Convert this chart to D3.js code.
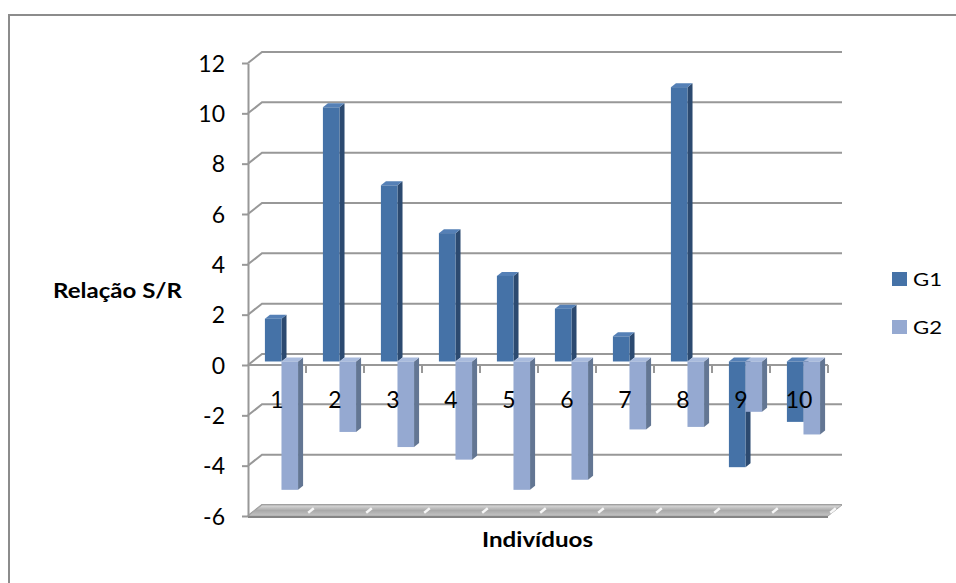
<!DOCTYPE html>
<html>
<head>
<meta charset="utf-8">
<script src="https://cdn.jsdelivr.net/npm/d3@7"></script>
<style>
  html, body { margin: 0; padding: 0; background: #fff; }
  svg { display: block; }
  text { font-family: Lato, "Liberation Sans", sans-serif; fill: #000; }
</style>
</head>
<body>
<svg id="chart" width="956" height="583"></svg>
<script>
// Individuals on the category axis
const categories = ["1", "2", "3", "4", "5", "6", "7", "8", "9", "10"];
// S/R ratio per individual
const g1Values = [1.7, 10.1, 7.0, 5.1, 3.4, 2.1, 1.0, 10.9, -4.2, -2.4];
const g2Values = [-5.1, -2.8, -3.4, -3.9, -5.1, -4.7, -2.7, -2.6, -2.0, -2.9];
const seriesNames = ["G1", "G2"];
const yTicks = [-6, -4, -2, 0, 2, 4, 6, 8, 10, 12];

(function draw() {
  const svg = d3.select("#chart");

  // plot box (front plane) and depth vector of the 3D walls
  const plotLeft = 248, plotRight = 828, plotTop = 63, plotBottom = 516;
  const depth = { dx: 14, dy: -11 };
  const barFront = 0.32, barBack = 0.68;   // fraction of depth occupied by the columns

  const x = d3.scaleBand().domain(categories).range([plotLeft, plotRight]).paddingInner(0).paddingOuter(0);
  const xs = d3.scaleBand().domain(seriesNames).range([0, x.bandwidth()]).paddingInner(0).paddingOuter(0.75);
  const y = d3.scaleLinear().domain([-6, 12]).range([plotBottom, plotTop]);

  const colors = {
    G1: { front: "#4572a7", side: "#2c4a70", top: "#5580b6" },
    G2: { front: "#95a9d1", side: "#637693", top: "#a9bbdd" }
  };
  const gridColor = "#989898";

  // chart border
  svg.append("path")
    .attr("d", "M9,583 L9,15 L956,15")
    .attr("fill", "none").attr("stroke", "#8c8c8c").attr("stroke-width", 2);

  const defs = svg.append("defs");
  const floorGrad = defs.append("linearGradient").attr("id", "floorGrad")
    .attr("x1", 0).attr("y1", 0).attr("x2", 0).attr("y2", 1);
  floorGrad.append("stop").attr("offset", "0%").attr("stop-color", "#dcdcdc");
  floorGrad.append("stop").attr("offset", "50%").attr("stop-color", "#a9a9a9");
  floorGrad.append("stop").attr("offset", "100%").attr("stop-color", "#c4c4c4");
  defs.append("filter").attr("id", "soft").append("feGaussianBlur").attr("stdDeviation", 0.6);

  // back-wall gridlines and side-wall diagonals
  const grid = svg.append("g");
  yTicks.forEach(v => {
    const gy = y(v);
    grid.append("path")
      .attr("d", `M${plotLeft},${gy} L${plotLeft + depth.dx},${gy + depth.dy} L${plotRight + depth.dx},${gy + depth.dy}`)
      .attr("fill", "none").attr("stroke", gridColor).attr("stroke-width", 2);
  });

  // floor slab at the bottom of the value range
  const fy = y(-6);
  svg.append("path")
    .attr("d", `M${plotLeft},${fy} L${plotRight},${fy} L${plotRight + depth.dx},${fy + depth.dy} L${plotLeft + depth.dx},${fy + depth.dy} Z`)
    .attr("fill", "url(#floorGrad)").attr("stroke", "#a8a8a8").attr("stroke-width", 1);
  svg.append("line")
    .attr("x1", plotLeft).attr("x2", plotRight).attr("y1", fy + 1).attr("y2", fy + 1)
    .attr("stroke", "#858585").attr("stroke-width", 2);
  const streaks = svg.append("g").attr("filter", "url(#soft)");
  categories.forEach(c => {
    const xb = x(c) + x.bandwidth();
    streaks.append("line")
      .attr("x1", xb + depth.dx * 0.3 - 2).attr("y1", fy + depth.dy * 0.3)
      .attr("x2", xb + depth.dx * 0.7 - 2).attr("y2", fy + depth.dy * 0.7)
      .attr("stroke", "#ffffff").attr("stroke-width", 2.5).attr("opacity", 0.9);
  });

  // value axis on the front-left edge
  const yAxis = d3.axisLeft(y).tickValues(yTicks).tickSize(6).tickSizeOuter(0).tickPadding(17)
    .tickFormat(d => String(d));
  const yAxisG = svg.append("g").attr("transform", `translate(${plotLeft},0)`).call(yAxis);
  yAxisG.select(".domain").attr("stroke", gridColor).attr("stroke-width", 2);
  yAxisG.selectAll(".tick line").attr("stroke", gridColor).attr("stroke-width", 2);
  yAxisG.selectAll(".tick text")
    .attr("font-family", "Lato, 'Liberation Sans', sans-serif")
    .attr("font-size", 23).attr("fill", "#000").attr("dy", "0.36em");

  // category axis at zero, with boundary ticks
  const zy = y(0);
  svg.append("line").attr("x1", plotLeft).attr("x2", plotRight).attr("y1", zy).attr("y2", zy)
    .attr("stroke", gridColor).attr("stroke-width", 2);
  categories.forEach(c => {
    const xb = x(c) + x.bandwidth();
    svg.append("line").attr("x1", xb).attr("x2", xb).attr("y1", zy).attr("y2", zy + 8)
      .attr("stroke", gridColor).attr("stroke-width", 2);
  });

  // 3D columns
  const ox = depth.dx * barFront, oy = depth.dy * barFront;
  const bdx = depth.dx * (barBack - barFront), bdy = depth.dy * (barBack - barFront);
  const bars = svg.append("g");
  const rows = categories.map((c, i) => ({ c, G1: g1Values[i], G2: g2Values[i] }));
  rows.forEach(r => {
    seriesNames.forEach(s => {
      const v = r[s];
      const x0 = x(r.c) + xs(s) + ox, x1 = x0 + xs.bandwidth();
      const yTop = Math.min(y(v), y(0)) + oy, yBot = Math.max(y(v), y(0)) + oy;
      const col = colors[s];
      const g = bars.append("g");
      g.append("path")
        .attr("d", `M${x1},${yTop} L${x1 + bdx},${yTop + bdy} L${x1 + bdx},${yBot + bdy} L${x1},${yBot} Z`)
        .attr("fill", col.side);
      g.append("path")
        .attr("d", `M${x0},${yTop} L${x0 + bdx},${yTop + bdy} L${x1 + bdx},${yTop + bdy} L${x1},${yTop} Z`)
        .attr("fill", col.top);
      g.append("rect")
        .attr("x", x0).attr("y", yTop).attr("width", x1 - x0).attr("height", yBot - yTop)
        .attr("fill", col.front);
    });
  });

  // category labels
  svg.append("g").selectAll("text").data(categories).join("text")
    .attr("x", d => x(d) + x.bandwidth() / 2)
    .attr("y", 408)
    .attr("text-anchor", "middle")
    .attr("font-size", 23)
    .text(d => d);

  // axis titles
  svg.append("text")
    .attr("x", 53).attr("y", 298)
    .attr("font-size", 21).attr("font-weight", "bold")
    .attr("textLength", 129).attr("lengthAdjust", "spacingAndGlyphs")
    .text("Relação S/R");
  svg.append("text")
    .attr("x", 482).attr("y", 547)
    .attr("font-size", 21).attr("font-weight", "bold")
    .attr("textLength", 111).attr("lengthAdjust", "spacingAndGlyphs")
    .text("Indivíduos");

  // legend
  const legend = svg.append("g");
  seriesNames.forEach((s, i) => {
    const ly = 272 + i * 48;
    legend.append("rect").attr("x", 892).attr("y", ly).attr("width", 15).attr("height", 14)
      .attr("fill", colors[s].front);
    legend.append("text").attr("x", 913).attr("y", ly + 14)
      .attr("font-size", 18)
      .attr("textLength", 29).attr("lengthAdjust", "spacingAndGlyphs")
      .text(s);
  });
})();
</script>
</body>
</html>
